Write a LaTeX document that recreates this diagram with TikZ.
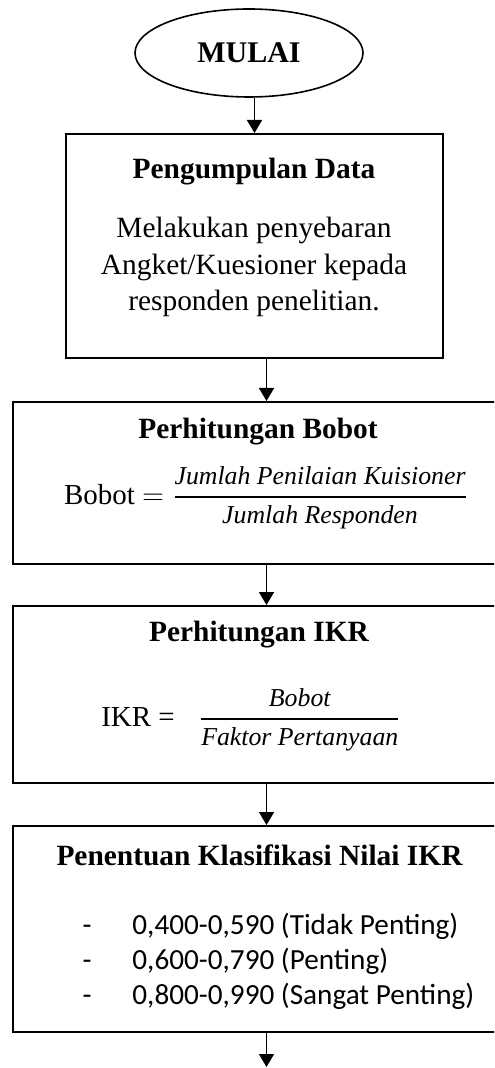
\documentclass[tikz,border=0pt]{standalone}
\usepackage{fontspec}
\usepackage{amsmath}
\setmainfont{Liberation Serif}
\newfontfamily\calibri{Carlito}
\usetikzlibrary{shapes.geometric,arrows.meta}

\tikzset{
  kotak/.style={draw,rectangle,line width=1pt,inner sep=0pt},
  panah/.style={line width=0.8pt,-{Triangle[width=7.5pt,length=6.5pt]}},
  judul/.style={font=\fontsize{14.7}{17}\selectfont\bfseries},
  isi/.style={font=\fontsize{14.7}{18.25}\selectfont,align=center},
  daftar/.style={font=\calibri\fontsize{14.6}{17}\selectfont,inner sep=0pt},
}
\newcommand{\mkata}[1]{{\fontsize{12.9}{14}\selectfont\textit{#1}}}
\newcommand{\pecah}[2]{\genfrac{}{}{0.9pt}{0}{#1}{#2}}

\begin{document}
\begin{tikzpicture}[x=0.5pt,y=-0.5pt]
	\useasboundingbox (0,0) rectangle (494,1068) ;
	\clip (0,0) rectangle (494,1068) ;
	\node[ellipse,draw,line width=0.8pt,minimum width=114pt,minimum height=44pt,inner sep=0pt,font=\fontsize{15}{17}\selectfont\bfseries] (mulai) at (249,53) {MULAI} ;
	\node[kotak,minimum width=188.5pt,minimum height=112pt] (kumpul) at (254.5,246) {} ;
	\node[judul] (tkumpul) at (254,172) {Pengumpulan Data} ;
	\node[isi] (dkumpul) at (254,267) {Melakukan penyebaran\\Angket/Kuesioner kepada\\responden penelitian.} ;
	\node[kotak,minimum width=253.5pt,minimum height=81pt] (bobot) at (266.5,483) {} ;
	\node[judul] (tbobot) at (258,432) {Perhitungan Bobot} ;
	\node[font=\fontsize{14.5}{17}\selectfont] (fbobot) at (266,498) {Bobot $=\pecah{\mkata{Jumlah Penilaian Kuisioner}}{\mkata{Jumlah Responden}}$} ;
	\node[kotak,minimum width=253.5pt,minimum height=88.5pt] (ikr) at (266.5,694.5) {} ;
	\node[judul] (tikr) at (259,635) {Perhitungan IKR} ;
	\node[font=\fontsize{14.5}{17}\selectfont] (fikr) at (251,720) {IKR =\hspace{12pt}$\pecah{\mkata{Bobot}}{\mkata{Faktor Pertanyaan}}$} ;
	\node[kotak,minimum width=253.5pt,minimum height=103pt] (klas) at (266.5,929) {} ;
	\node[judul] (tklas) at (259.5,855) {Penentuan Klasifikasi Nilai IKR} ;
	\node[daftar,anchor=base] (d1) at (87,934) {-} ; \node[daftar,anchor=base west] (b1) at (132,934) {0,400-0,590 (Tidak Penting)} ;
	\node[daftar,anchor=base] (d2) at (87,969) {-} ; \node[daftar,anchor=base west] (b2) at (132,969) {0,600-0,790 (Penting)} ;
	\node[daftar,anchor=base] (d3) at (87,1004) {-} ; \node[daftar,anchor=base west] (b3) at (132,1004) {0,800-0,990 (Sangat Penting)} ;
	\coordinate (akhir) at (266.5,1067) ;
	\draw[panah] (mulai.south -| kumpul.north) -- (kumpul.north) ;
	\draw[panah] (kumpul.south -| bobot.north) -- (bobot.north) ;
	\draw[panah] (bobot.south) -- (ikr.north) ;
	\draw[panah] (ikr.south) -- (klas.north) ;
	\draw[panah] (klas.south) -- (akhir) ;
\end{tikzpicture}
\end{document}
